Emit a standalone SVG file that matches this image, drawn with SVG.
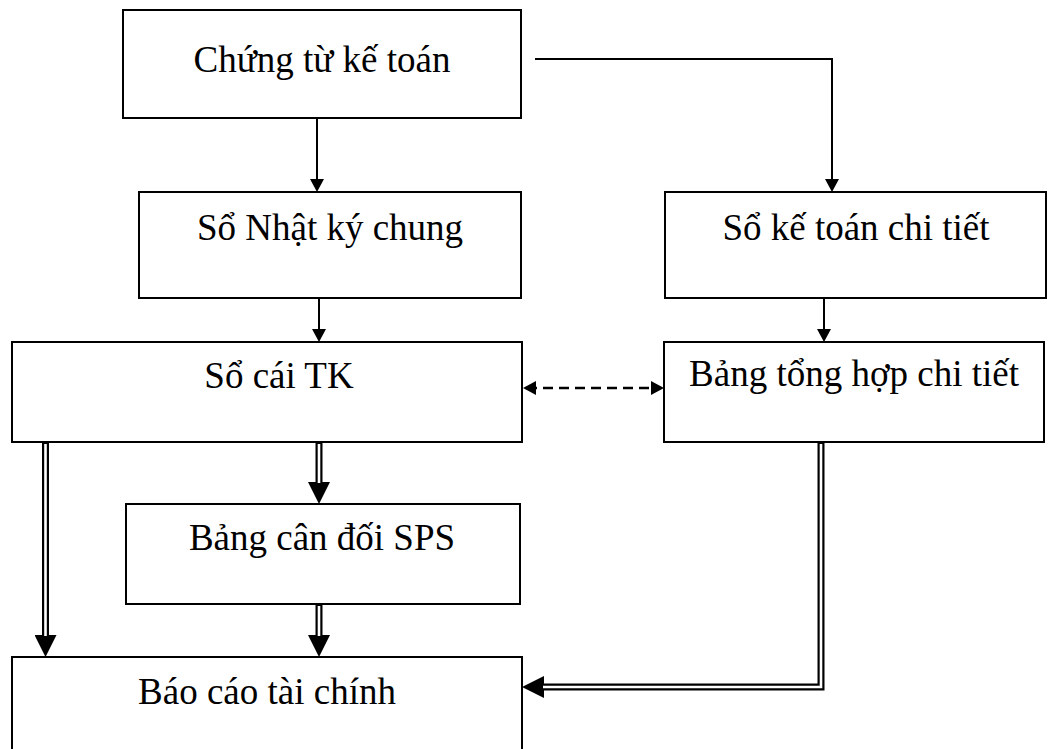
<svg xmlns="http://www.w3.org/2000/svg" width="1052" height="749" viewBox="0 0 1052 749">
<style>
  .box { fill: #ffffff; stroke: #000000; stroke-width: 2; }
  .lbl { font-family: "Liberation Serif", "Times New Roman", serif; font-size: 37px; fill: #000000; text-anchor: middle; }
  .ln { fill: none; stroke: #000000; stroke-width: 2; }
  .dash { fill: none; stroke: #000000; stroke-width: 2.5; stroke-dasharray: 10 6; }
  .dbl { fill: none; stroke: #000000; stroke-width: 7; stroke-linejoin: miter; }
  .dblin { fill: none; stroke: #ffffff; stroke-width: 2.6; stroke-linejoin: miter; }
</style>
<defs>
  <marker id="arr" viewBox="0 0 13 14" refX="9" refY="7" markerWidth="13" markerHeight="14" markerUnits="userSpaceOnUse" orient="auto-start-reverse">
    <path d="M0,0 L13,7 L0,14 Z" fill="#000000"/>
  </marker>
  <marker id="darr" viewBox="0 0 22 22" refX="0" refY="11" markerWidth="22" markerHeight="22" markerUnits="userSpaceOnUse" orient="auto">
    <path d="M0,0 L22,11 L0,22 Z" fill="#000000"/>
  </marker>
</defs>
<rect width="1052" height="749" fill="#ffffff"/>

<g id="n1">
  <rect class="box" x="123" y="10" width="398" height="108"/>
  <text class="lbl" x="322" y="72">Chứng từ kế toán</text>
</g>
<g id="n2">
  <rect class="box" x="139" y="192" width="382" height="106"/>
  <text class="lbl" x="330" y="240">Sổ Nhật ký chung</text>
</g>
<g id="n3">
  <rect class="box" x="12" y="342" width="510" height="100"/>
  <text class="lbl" x="279" y="388">Sổ cái TK</text>
</g>
<g id="n4">
  <rect class="box" x="665" y="192" width="381" height="106"/>
  <text class="lbl" x="856" y="240">Sổ kế toán chi tiết</text>
</g>
<g id="n5">
  <rect class="box" x="664" y="342" width="380" height="100"/>
  <text class="lbl" x="854" y="386">Bảng tổng hợp chi tiết</text>
</g>
<g id="n6">
  <rect class="box" x="126" y="504" width="394" height="100"/>
  <text class="lbl" x="322" y="550">Bảng cân đối SPS</text>
</g>
<g id="n7">
  <rect class="box" x="12" y="657" width="510" height="110"/>
  <text class="lbl" x="267" y="704">Báo cáo tài chính</text>
</g>

<g id="connectors">
  <path class="ln" d="M317,118 V188" marker-end="url(#arr)"/>
  <path class="ln" d="M535,59 H832 V188" marker-end="url(#arr)"/>
  <path class="ln" d="M319,298 V338" marker-end="url(#arr)"/>
  <path class="ln" d="M824,298 V338" marker-end="url(#arr)"/>
  <path class="dash" d="M527,388 H660" marker-start="url(#arr)" marker-end="url(#arr)"/>

  <path class="dbl" d="M45.5,443 V635" marker-end="url(#darr)"/>
  <path class="dblin" d="M45.5,444 V636"/>

  <path class="dbl" d="M319,443 V482" marker-end="url(#darr)"/>
  <path class="dblin" d="M319,444 V483"/>

  <path class="dbl" d="M319,605 V635" marker-end="url(#darr)"/>
  <path class="dblin" d="M319,606 V636"/>

  <path class="dbl" d="M821,443 V687 H544" marker-end="url(#darr)"/>
  <path class="dblin" d="M821,444 V687 H543"/>
</g>
</svg>
